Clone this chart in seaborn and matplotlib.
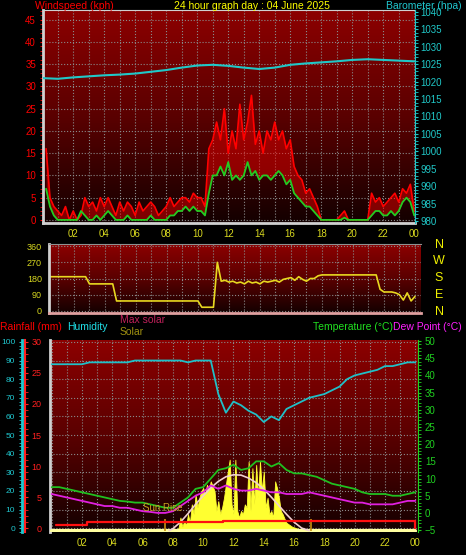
import numpy as np
import matplotlib
matplotlib.use("Agg")
import matplotlib.pyplot as plt
from matplotlib.colors import LinearSegmentedColormap
from matplotlib.ticker import MultipleLocator
import seaborn as sns

# ---- data ----
t15 = np.arange(0.25, 24.01, 0.25)    # quarter-hour samples
t30 = np.arange(0, 24.01, 0.5)        # half-hour samples
t60 = np.arange(0, 25, 1)             # hourly samples

gust = [16, 5, 3, 2, 1, 3, 0, 2, 0, 1, 5, 3, 4, 2, 5, 3, 5, 3, 1, 4, 2, 4, 3, 1,
        4, 2, 3, 4, 3, 1, 2, 3, 5, 3, 4, 5, 5, 4, 6, 5, 5, 3, 16, 18, 22, 18, 25, 15,
        20, 16, 26, 18, 22, 28, 17, 20, 15, 20, 18, 22, 18, 20, 16, 18, 12, 10, 9, 6,
        7, 5, 3, 0, 0, 0, 0, 0, 1, 2, 0, 0, 0, 0, 0, 0, 6, 4, 5, 3, 4, 5, 6, 4, 7, 6, 8, 2]
avg_wind = [7, 3, 1, 0, 0, 0, 0, 0, 0, 2, 1, 0, 0, 1, 0, 1, 2, 1, 0, 0, 0, 1, 0, 0,
            0, 0, 0, 1, 0, 0, 0, 0, 1, 1, 2, 2, 3, 2, 3, 2, 2, 1, 6, 10, 10, 12, 10, 13,
            9, 10, 9, 10, 13, 10, 11, 9, 10, 10, 9, 10, 11, 10, 8, 9, 6, 5, 4, 3,
            3, 2, 1, 0, 0, 0, 0, 0, 0, 0.5, 0, 0, 0, 0, 0, 0, 1, 2, 2, 1, 1, 2, 1, 2, 4, 5, 4, 1]
baro = [1021, 1020.8, 1021.2, 1021.5, 1021.8, 1022, 1022.3, 1022.8, 1023.3, 1024, 1024.6,
        1024.8, 1024.5, 1024, 1023.6, 1024, 1024.8, 1025.2, 1025.5, 1025.8, 1026.2,
        1026.4, 1026.2, 1026.0, 1025.8]

wind_dir = [200, 190, 190, 190, 190, 190, 190, 190, 190, 190, 190, 150, 150, 150, 150, 150,
            150, 150, 55, 55, 55, 55, 55, 55, 55, 55, 55, 55, 55, 55, 55, 55, 55, 55, 55, 55,
            55, 55, 55, 55, 20, 20, 20, 20, 270, 165, 170, 160, 165, 155, 160, 150, 165, 155,
            160, 150, 165, 160, 165, 170, 160, 175, 180, 185, 170, 190, 175, 165, 180, 180,
            195, 200, 200, 200, 200, 200, 200, 200, 200, 200, 200, 200, 200, 200, 200, 200,
            120, 105, 105, 105, 100, 90, 60, 100, 55, 80]

humidity = [88, 88, 88, 88, 88, 89, 89, 89, 89, 89, 89, 90, 90, 90, 90, 90, 90, 90, 89, 90,
            90, 90, 72, 62, 68, 66, 63, 61, 57, 60, 58, 64, 66, 68, 70, 71, 72, 74, 76, 80,
            82, 83, 84, 85, 87, 87, 88, 89, 89]
temperature = [7.5, 7.5, 7, 6.5, 6, 5.5, 5, 4.5, 4, 3.5, 3.3, 3, 3, 2.5, 2, 1.5, 1.5, 3, 4.5,
               7, 7.5, 10, 12.5, 13, 14, 12.5, 13, 15, 15, 13.5, 14.5, 12.5, 11.5, 11.5, 11,
               10.5, 9.5, 8.5, 8, 7.5, 7, 6, 5.5, 5.5, 5.5, 5, 5, 5.5, 6]
dew_point = [5.5, 5, 4.5, 4, 3.5, 3, 2.5, 2, 2, 1.5, 1.5, 1, 0.5, 0.3, 0, 0, 0.5, 2, 3.5, 5,
             6, 8, 7, 8, 7, 6.5, 6.5, 7, 6.5, 6, 6, 5.5, 5.5, 5.5, 6, 5.5, 5, 4.5, 4, 3.5,
             3, 3, 2.5, 2.5, 2.5, 2.5, 3, 3.5, 3.5]

rain_t = [0.3, 2.3, 2.3, 11.3, 11.3, 24, 24]
rain_mm = [0.6, 0.6, 1.0, 1.0, 1.2, 1.2, 0]

maxsol_t = [7.75, 8, 8.5, 9, 9.5, 10, 10.5, 11, 11.5, 12, 12.5, 13, 13.5, 14, 14.5, 15,
            15.5, 16, 16.5, 17]
max_solar = [0, 30, 130, 260, 400, 530, 650, 750, 820, 850, 845, 800, 730, 630, 510, 380,
             250, 130, 40, 0]
sol_t = np.arange(7.5, 17.01, 0.125)
solar = [0, 0, 0, 5,
         10, 15, 20, 40, 200, 60, 150, 80,
         250, 120, 400, 250, 550, 350, 500, 600,
         650, 550, 700, 620, 750, 680, 600, 300,
         450, 250, 350, 500, 700, 900, 1080, 400,
         250, 1080, 300, 200, 300, 250, 400, 350,
         1050, 300, 950, 400, 1000, 500, 1060, 600,
         900, 350, 500, 250, 300, 200, 750, 650,
         500, 300, 250, 180, 120, 100, 80, 60,
         50, 40, 30, 25, 15, 10, 5, 0,
         0]
sunrise, sunset = 7.5, 17.1

hour_ticks = list(range(2, 25, 2))
hour_labels = ["%02d" % (h % 24) for h in hour_ticks]

# ---- style ----
sns.set_style("dark")
plt.rcParams["font.family"] = ["Liberation Sans", "DejaVu Sans"]
plt.rcParams["font.size"] = 7

W, H = 466, 555
fig = plt.figure(figsize=(W / 100, H / 100), dpi=100, facecolor="black")
grad = LinearSegmentedColormap.from_list("bg", ["#140000", "#5a0000", "#8c0000"])
GRID = "#8a8a8a"
XLAB = "#d8d820"


def box(x0, y0, x1, y1):
    return fig.add_axes([x0 / W, 1 - y1 / H, (x1 - x0) / W, (y1 - y0) / H])


def bare(ax):
    for s in ax.spines.values():
        s.set_visible(False)
    ax.grid(False)
    ax.set_ylabel("")


def style(ax, xlim, ylim):
    ax.set_xlim(*xlim)
    ax.set_ylim(*ylim)
    ax.imshow(np.linspace(0, 1, 100).reshape(-1, 1), cmap=grad, aspect="auto",
              extent=[xlim[0], xlim[1], ylim[1], ylim[0]], zorder=-1)
    ax.set_facecolor("black")
    ax.xaxis.set_minor_locator(MultipleLocator(1))
    ax.grid(True, which="both", axis="x", color=GRID, linestyle=":", linewidth=0.8)
    ax.grid(True, which="major", axis="y", color=GRID, linestyle=":", linewidth=0.8)
    ax.set_axisbelow(True)
    for s in ax.spines.values():
        s.set_visible(False)
    ax.spines["left"].set_visible(True)
    ax.spines["left"].set_color("#d0d0d0")
    ax.spines["left"].set_linewidth(2)
    ax.set_xticks(hour_ticks)
    ax.set_xticklabels(hour_labels, color=XLAB, fontsize=7)
    ax.tick_params(axis="x", length=0, pad=4)
    ax.set_xlabel("")
    ax.set_ylabel("")


# ---- top panel: wind and barometer ----
ax1 = box(43, 10, 415, 223)
style(ax1, (0.05, 24.05), (-0.7, 47.2))
for s in ["top", "bottom"]:
    ax1.spines[s].set_visible(True)
    ax1.spines[s].set_color("#d0d0d0")
ax1.spines["bottom"].set_linewidth(2)
ax1.yaxis.set_major_locator(MultipleLocator(5))
ax1.yaxis.set_minor_locator(MultipleLocator(1))
ax1.tick_params(axis="y", which="both", colors="red", labelsize=7, length=2, pad=3)
ax1.fill_between(t15, avg_wind, gust, color="#ff0000", alpha=0.45, linewidth=0)
sns.lineplot(x=t15, y=gust, ax=ax1, color="#ff0000", linewidth=1.2)
sns.lineplot(x=t15, y=avg_wind, ax=ax1, color="#22cc22", linewidth=1.3)
ax1.set_xlabel("")
ax1.set_ylabel("")

ax1b = ax1.twinx()
ax1b.set_ylim(979.5, 1040.5)
sns.lineplot(x=t60, y=baro, ax=ax1b, color="#20c8c8", linewidth=1.5)
ax1b.set_xlim(0.05, 24.05)
ax1b.yaxis.set_major_locator(MultipleLocator(5))
ax1b.yaxis.set_minor_locator(MultipleLocator(1))
ax1b.tick_params(axis="y", which="both", colors="#20c8c8", labelsize=7, length=2, pad=2)
bare(ax1b)
ax1b.spines["right"].set_visible(True)
ax1b.spines["right"].set_color("#20c8c8")

# ---- middle panel: wind direction ----
ax2 = box(49, 244, 421, 313)
style(ax2, (0.39, 24.39), (-12, 372))
ax2.set_xticklabels([])
ax2.spines["bottom"].set_visible(True)
ax2.spines["bottom"].set_color("#e0a0a0")
ax2.spines["bottom"].set_linewidth(2)
ax2.spines["top"].set_visible(True)
ax2.spines["top"].set_color("#909090")
ax2.set_yticks([0, 90, 180, 270, 360])
ax2.yaxis.set_minor_locator(MultipleLocator(30))
ax2.tick_params(axis="y", which="both", colors=XLAB, labelsize=6.5, length=2, pad=3)
sns.lineplot(x=t15, y=wind_dir, ax=ax2, color="#e8d820", linewidth=1.2)
ax2.set_xlabel("")
ax2.set_ylabel("")
for lbl, yp in zip("NWSEN", [245, 261, 278, 295, 312]):
    fig.text(439 / W, 1 - yp / H, lbl, color="#f0f000", fontsize=9, ha="center", va="center")

# ---- bottom panel: humidity, rain, temperature, solar ----
ax3 = box(50, 340, 418, 532)
style(ax3, (-0.11, 24.18), (-2, 101))
ax3.set_yticks(range(0, 101, 10))
ax3.tick_params(axis="y", length=0, labelleft=False)

axs = ax3.twinx()
axs.set_ylim(-20, 2900)
axs.fill_between(sol_t, solar, color="#ffff30", linewidth=0.6, zorder=2)
axs.plot([0, 24], [0, 0], color="#ffffa0", linewidth=3, zorder=2)
sns.lineplot(x=maxsol_t, y=max_solar, ax=axs, color="#f0d0d0", linewidth=1.2)
axs.vlines([sunrise, sunset], 0, 180, color="#c89010", linewidth=1.2)
axs.set_yticks([])
bare(axs)

axh = ax3.twinx()
axh.set_ylim(-2, 101)
sns.lineplot(x=t30, y=humidity, ax=axh, color="#20c0c8", linewidth=1.3)
axh.set_yticks([])
bare(axh)

axt = ax3.twinx()
axt.set_ylim(-5.55, 50.3)
sns.lineplot(x=t30, y=dew_point, ax=axt, color="#e020e0", linewidth=1.3)
sns.lineplot(x=t30, y=temperature, ax=axt, color="#20c020", linewidth=1.3)
axt.yaxis.set_major_locator(MultipleLocator(5))
axt.yaxis.set_minor_locator(MultipleLocator(1))
axt.tick_params(axis="y", which="both", colors="#20d020", labelsize=7, length=2, pad=3)
bare(axt)
axt.spines["right"].set_visible(True)
axt.spines["right"].set_color("#20d020")

axr = ax3.twinx()
axr.set_ylim(-0.6, 30.3)
axr.plot(rain_t, rain_mm, color="#ff1010", linewidth=1.6)
axr.yaxis.tick_left()
bare(axr)
axr.spines["left"].set_visible(True)
axr.spines["left"].set_position(("outward", 18))
axr.spines["left"].set_color("#ff2020")
axr.spines["left"].set_linewidth(1.5)
axr.yaxis.set_major_locator(MultipleLocator(5))
axr.yaxis.set_minor_locator(MultipleLocator(1))
axr.tick_params(axis="y", which="both", colors="#ff2020", labelsize=6.5, length=2, pad=-12,
                direction="in")

axc = ax3.twinx()
axc.set_ylim(-2, 101)
axc.yaxis.tick_left()
bare(axc)
axc.spines["left"].set_visible(True)
axc.spines["left"].set_position(("outward", 20))
axc.spines["left"].set_color("#20c8d0")
axc.spines["left"].set_linewidth(2)
axc.set_yticks(range(0, 101, 10))
axc.yaxis.set_minor_locator(MultipleLocator(2))
axc.tick_params(axis="y", which="both", colors="#20c8d0", labelsize=6, length=2, pad=3)

# ---- headings ----
def label(x, y, s, c, ha="left", size=7.5):
    fig.text(x / W, 1 - y / H, s, color=c, fontsize=size, ha=ha, va="center")

label(35, 6, "Windspeed (kph)", "#ff0000")
label(252, 6, "24 hour graph day : 04 June 2025", "#ffff00", ha="center")
label(462, 6, "Barometer (hpa)", "#20c8d0", ha="right")
label(0, 327, "Rainfall (mm)", "#ff0000")
label(67, 327, "Humidity", "#20e0e8")
label(120, 320, "Max solar", "#c0205a")
label(120, 332, "Solar", "#a09010")
label(313, 327, "Temperature (\u00b0C)", "#20e020")
label(393, 327, "Dew Point (\u00b0C)", "#ff20ff")
label(163, 508, "Sun Rise", "#c8a020", ha="center", size=7)

fig.savefig("out.png", dpi=100, facecolor="black")
